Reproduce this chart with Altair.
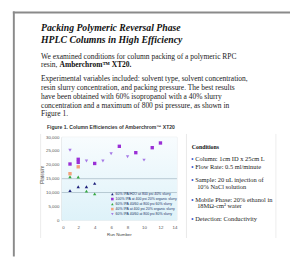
import altair as alt
import pandas as pd

# ---------------- data ----------------
series_names = [
    "60% IPA/H2O at 800 psi 40% slurry",
    "100% IPA at 400 psi 20% organic slurry",
    "60% IPA 40/60 at 800 psi 60% slurry",
    "40% IPA at 400 psi 20% organic slurry",
    "60% IPA 40/60 at 800 psi 80% slurry",
]
series_colors = ["#1c1f7a", "#9a2fd6", "#34a840", "#f4a27c", "#a67ae6"]
series_shapes = ["triangle-up", "square", "triangle-up", "square", "triangle-down"]

s1_x = [1, 2, 3, 4]
s1_y = [10700, 12100, 12100, 13300]
s2_x = [1, 2, 2, 4, 7, 9, 11, 12]
s2_y = [20300, 22000, 20900, 20500, 26700, 24400, 26200, 27900]
s3_x = [1, 2, 3, 4]
s3_y = [15700, 15600, 10500, 9500]
s4_x = [1, 2]
s4_y = [16800, 19300]
s5_x = [1, 3, 5, 6, 8, 10]
s5_y = [25300, 21400, 21400, 24000, 22900, 21700]

x_ticks = [0, 2, 4, 6, 8, 10, 12, 14]
y_ticks = [0, 5000, 10000, 15000, 20000, 25000, 30000]
grid_values = [10000, 15000]

title_lines = ["Packing Polymeric Reversal Phase", "HPLC Columns in High Efficiency"]
para1_line1 = "We examined conditions for column packing of a polymeric RPC"
para1_line2a = "resin,"
para1_line2b = "Amberchrom\u2122 XT20."
para2_lines = [
    "Experimental variables included: solvent type, solvent concentration,",
    "resin slurry concentration, and packing pressure.  The best results",
    "have been obtained with 60% isopropanol with a 40% slurry",
    "concentration and a maximum of 800 psi pressure, as shown in",
    "Figure 1.",
]
caption = "Figure 1. Column Efficiencies of Amberchrom\u2122 XT20"
x_title = "Run Number"
y_title = "Plates/m"
cond_title = "Conditions"
cond_items = [
    ["Column: 1cm ID x 25cm L"],
    ["Flow Rate: 0.5 ml/minute"],
    ["Sample: 20 uL injection of", "10% NaCl solution"],
    ["Mobile Phase: 20% ethanol in", "18M\u03a9-cm\u00b2 water"],
    ["Detection: Conductivity"],
]

rows = []
for name, xs, ys in zip(series_names,
                        [s1_x, s2_x, s3_x, s4_x, s5_x],
                        [s1_y, s2_y, s3_y, s4_y, s5_y]):
    for a, b in zip(xs, ys):
        rows.append({"series": name, "run": a, "eff": b})
df = pd.DataFrame(rows)

# ---------------- layout ----------------
W, H = 118.4, 85.4
OX, OY = 63.3, 137.3  # plot origin in page coordinates


def X(p):
    return p - OX


def Y(p):
    return p - OY


one = pd.DataFrame({"k": [0]})
SERIF = "Liberation Serif"
SANS = "Liberation Sans"


def txt(s, x, y, size, weight="normal", style="normal", font=SERIF,
        color="#111111", angle=0, align="left"):
    return alt.Chart(pd.DataFrame({"t": [s]})).mark_text(
        align=align, baseline="alphabetic", fontSize=size, fontWeight=weight,
        fontStyle=style, font=font, color=color, angle=angle
    ).encode(x=alt.value(X(x)), y=alt.value(Y(y)), text="t:N")


def rule(x1, y1, x2, y2, color, width):
    return alt.Chart(one).mark_rule(color=color, strokeWidth=width).encode(
        x=alt.value(X(x1)), x2=alt.value(X(x2)),
        y=alt.value(Y(y1)), y2=alt.value(Y(y2)))


xs = alt.Scale(domain=[0, 14], nice=False)
ys = alt.Scale(domain=[0, 30000], nice=False)
x_axis = alt.Axis(values=x_ticks, title=None, ticks=False, domain=False,
                  grid=False, labelFontSize=4.5, labelColor="#555555",
                  labelPadding=4.5, labelFont=SANS)
y_axis = alt.Axis(values=y_ticks, format=",d", title=None, ticks=False,
                  domain=True, domainColor="#aaaaaa", domainWidth=0.6,
                  grid=False, labelFontSize=4.5, labelColor="#555555",
                  labelPadding=3, labelFont=SANS)

layers = []

# page border
layers.append(rule(13, 9, 300, 9, "#8a8a8a", 2))
layers.append(rule(14, 8, 14, 260, "#8a8a8a", 2))

# figure frames
layers.append(rule(41.5, 134, 41.5, 241, "#e8e8e8", 0.8))
layers.append(rule(191.5, 134, 191.5, 241, "#e3e3e3", 0.8))
layers.append(rule(283.5, 134, 283.5, 241, "#e8e8e8", 0.8))

# plot background
bg = alt.Chart(one).mark_rect(
    color=alt.LinearGradient(
        gradient="linear",
        stops=[alt.GradientStop(color="#f8fcfe", offset=0),
               alt.GradientStop(color="#def2f9", offset=1)],
        x1=0, x2=0, y1=0, y2=1)
).encode(x=alt.value(0), x2=alt.value(W), y=alt.value(0), y2=alt.value(H))
layers.append(bg)

leg = alt.Legend(orient="none", legendX=X(113.5), legendY=Y(194.0), title=None,
                 labelFontSize=3.6, symbolSize=7, rowPadding=0.15,
                 labelColor="#223366", labelLimit=0, padding=0,
                 labelOffset=1.5, labelFont=SANS, symbolStrokeWidth=0)

points = alt.Chart(df).mark_point(filled=True, size=12, opacity=1).encode(
    x=alt.X("run:Q", scale=xs, axis=x_axis),
    y=alt.Y("eff:Q", scale=ys, axis=y_axis),
    color=alt.Color("series:N", sort=series_names,
                    scale=alt.Scale(domain=series_names, range=series_colors),
                    legend=leg),
    shape=alt.Shape("series:N", sort=series_names,
                    scale=alt.Scale(domain=series_names, range=series_shapes),
                    legend=leg),
)

grid = alt.Chart(pd.DataFrame({"eff": grid_values})).mark_rule(
    color="#a9bcc6", strokeWidth=0.8
).encode(y=alt.Y("eff:Q", scale=ys, axis=y_axis), x=alt.value(0), x2=alt.value(W))

layers.append(grid)
layers.append(points)

# axis titles
layers.append(txt(x_title, 122.5, 238.5, 4.5, font=SANS, color="#444444",
                  align="center"))
layers.append(txt(y_title, 45.5, 176, 4.8, font=SANS, color="#444444",
                  angle=270, align="center"))

# title and prose
layers.append(txt(title_lines[0], 42, 28.5, 10, weight="bold", style="italic"))
layers.append(txt(title_lines[1], 42, 40.5, 10, weight="bold", style="italic"))
layers.append(txt(para1_line1, 42, 57, 7.7, color="#222222"))
layers.append(txt(para1_line2a, 42, 65, 7.7, color="#222222"))
layers.append(txt(para1_line2b, 61, 65, 7.7, weight="bold"))
for i, line in enumerate(para2_lines):
    layers.append(txt(line, 42, 80 + 9 * i, 7.7, color="#222222"))
layers.append(txt(caption, 48, 128.5, 5.2, weight="bold", font=SANS,
                  color="#333333"))

# conditions panel
layers.append(txt(cond_title, 197, 149.5, 6, weight="bold"))
cond_y = [161.5, 170.5, 183.8, 203.8, 223.2]
for items, yy in zip(cond_items, cond_y):
    layers.append(txt("\u2022", 196.5, yy, 6.5, font=SANS, color="#3355cc"))
    layers.append(txt(items[0], 200.5, yy, 6.6, color="#222222"))
    if len(items) > 1:
        layers.append(txt(items[1], 202.5, yy + 6.3, 6.6, color="#222222"))

chart = alt.layer(*layers).properties(
    width=W, height=H,
    autosize=alt.AutoSizeParams(type="none"),
    padding={"left": OX - 8, "top": OY - 8,
             "right": 290 - (OX - 8) - W, "bottom": 249 - (OY - 8) - H},
    background="white",
).configure_view(stroke="#d5dde1", strokeWidth=0.6)

chart.save("out.html", embed_options={"renderer": "svg", "actions": False})
